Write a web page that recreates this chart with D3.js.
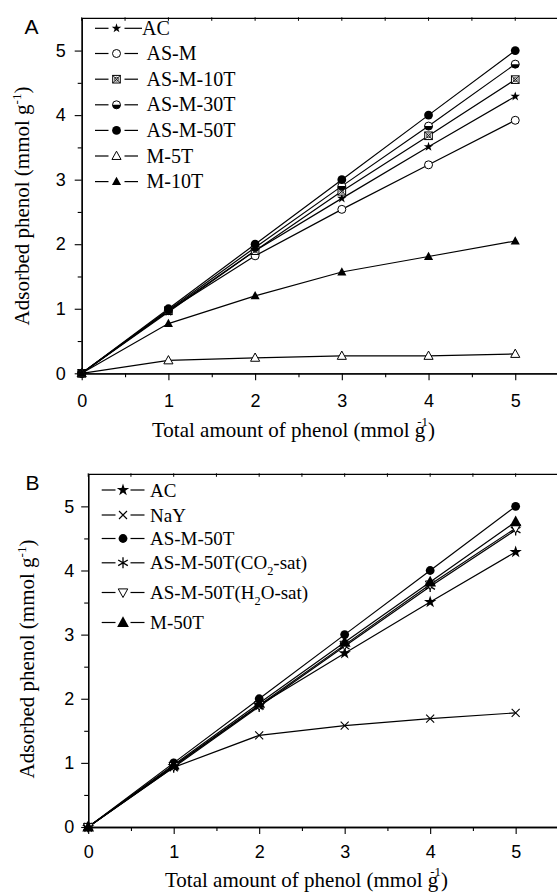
<!DOCTYPE html>
<html>
<head>
<meta charset="utf-8">
<script src="https://cdn.jsdelivr.net/npm/d3@7"></script>
<style>
  html, body { margin: 0; padding: 0; background: #fff; }
  svg { display: block; }
</style>
</head>
<body>
<svg id="chart" width="557" height="892"></svg>
<script>
// Phenol adsorption: total amount of phenol offered vs amount adsorbed
const loading = [0, 1, 2, 3, 4, 5];
const xTicks = [0, 1, 2, 3, 4, 5];
const yTicks = [0, 1, 2, 3, 4, 5];

// Panel A
const namesA   = ["AC", "AS-M", "AS-M-10T", "AS-M-30T", "AS-M-50T", "M-5T", "M-10T"];
const markersA = ["star", "circleOpen", "squareX", "circleHalf", "circleFilled", "triOpen", "triFilled"];
const acA      = [0, 0.95, 1.90, 2.71, 3.51, 4.29];
const asM      = [0, 0.97, 1.82, 2.54, 3.23, 3.92];
const asM10T   = [0, 0.97, 1.90, 2.82, 3.68, 4.55];
const asM30T   = [0, 0.98, 1.95, 2.90, 3.83, 4.79];
const asM50TA  = [0, 1.00, 2.00, 3.00, 4.00, 5.00];
const m5T      = [0, 0.20, 0.24, 0.27, 0.27, 0.30];
const m10T     = [0, 0.77, 1.20, 1.57, 1.81, 2.05];

// Panel B
const namesB   = ["AC", "NaY", "AS-M-50T", "AS-M-50T(CO2-sat)", "AS-M-50T(H2O-sat)", "M-50T"];
const markersB = ["starBig", "times", "circleFilled", "asterisk", "triDownOpen", "triFilledBig"];
const acB      = [0, 0.95, 1.90, 2.71, 3.51, 4.29];
const naY      = [0, 0.93, 1.43, 1.58, 1.69, 1.78];
const asM50TB  = [0, 1.00, 2.00, 3.00, 4.00, 5.00];
const co2Sat   = [0, 0.93, 1.88, 2.82, 3.75, 4.63];
const h2oSat   = [0, 0.95, 1.90, 2.84, 3.78, 4.66];
const m50T     = [0, 0.97, 1.93, 2.88, 3.82, 4.76];

const SERIF = "'Liberation Serif','Times New Roman',Times,serif";
const SANS  = "'Liberation Sans',Arial,Helvetica,sans-serif";

const svg = d3.select("#chart");

function drawMarker(g, type) {
  const blk = "#000";
  const tri = (h, up) => {
    const s = up ? 1 : -1;
    return `M0,${-h * s}L${h * 0.95},${h * 0.72 * s}L${-h * 0.95},${h * 0.72 * s}Z`;
  };
  switch (type) {
    case "star":
    case "starBig": {
      const R = type === "star" ? 5 : 6.5;
      g.append("path").attr("d", d3.symbol(d3.symbolStar, R * R / 0.8908)()).attr("fill", blk);
      break;
    }
    case "circleOpen":
      g.append("circle").attr("r", 4).attr("fill", "#fff").attr("stroke", blk).attr("stroke-width", 1);
      break;
    case "circleFilled":
      g.append("circle").attr("r", 4.4).attr("fill", blk);
      break;
    case "circleHalf":
      g.append("circle").attr("r", 4).attr("fill", "#fff").attr("stroke", blk).attr("stroke-width", 1);
      g.append("path").attr("d", "M-4,0A4,4 0 0 0 4,0Z").attr("fill", blk);
      break;
    case "squareX":
      g.append("rect").attr("x", -3.8).attr("y", -3.8).attr("width", 7.6).attr("height", 7.6)
        .attr("fill", "#fff").attr("stroke", blk).attr("stroke-width", 1);
      g.append("path").attr("d", "M-3.8,-3.8L3.8,3.8M3.8,-3.8L-3.8,3.8").attr("stroke", blk).attr("stroke-width", 0.9);
      g.append("circle").attr("r", 2).attr("fill", "none").attr("stroke", blk).attr("stroke-width", 0.7);
      break;
    case "triOpen":
      g.append("path").attr("d", tri(4.8, true)).attr("fill", "#fff").attr("stroke", blk).attr("stroke-width", 1);
      break;
    case "triFilled":
      g.append("path").attr("d", tri(4.8, true)).attr("fill", blk);
      break;
    case "triFilledBig":
      g.append("path").attr("d", tri(6.2, true)).attr("fill", blk);
      break;
    case "triDownOpen":
      g.append("path").attr("d", tri(5, false)).attr("fill", "#fff").attr("stroke", blk).attr("stroke-width", 1);
      break;
    case "times":
      g.append("path").attr("d", "M-4,-4L4,4M4,-4L-4,4").attr("stroke", blk).attr("stroke-width", 1.1);
      break;
    case "asterisk":
      g.append("path").attr("d", "M0,-5.5L0,5.5M-4.8,-2.8L4.8,2.8M4.8,-2.8L-4.8,2.8")
        .attr("stroke", blk).attr("stroke-width", 1.3);
      break;
  }
}

// Appends a label where "2" after CO / H is a subscript
function legendText(t, name, size) {
  const m = name.match(/^(.*\((?:CO|H))2(.*)$/);
  if (!m) { t.text(name); return; }
  t.append("tspan").text(m[1]);
  t.append("tspan").text("2").attr("font-size", size * 0.65).attr("dy", size * 0.3);
  t.append("tspan").text(m[2]).attr("dy", -size * 0.3);
}

function drawPanel(cfg) {
  const x = d3.scaleLinear().domain([0, 5.5]).range(cfg.xRange);
  const y = d3.scaleLinear().domain([0, 5.5]).range(cfg.yRange);
  const g = svg.append("g");
  const [x0, x1] = cfg.xRange;
  const [yb, yt] = cfg.yRange;

  // frame: top border with small ticks
  g.append("line").attr("x1", x0).attr("x2", x1).attr("y1", yt).attr("y2", yt)
    .attr("stroke", "#000").attr("stroke-width", 1.2);
  d3.range(0, 5.51, 0.5).forEach(v => {
    g.append("line").attr("x1", x(v)).attr("x2", x(v)).attr("y1", yt - 1).attr("y2", yt + 2.5)
      .attr("stroke", "#000").attr("stroke-width", 1);
  });

  // minor ticks
  const minorVals = d3.range(0.5, 5.01, 1);
  const xMinor = d3.axisBottom(x).tickValues(minorVals).tickSize(4).tickSizeOuter(0).tickFormat("");
  const yMinor = d3.axisLeft(y).tickValues(minorVals).tickSize(4).tickSizeOuter(0).tickFormat("");
  g.append("g").attr("transform", `translate(0,${yb})`).call(xMinor);
  g.append("g").attr("transform", `translate(${x0},0)`).call(yMinor);

  // major axes
  const xAxis = d3.axisBottom(x).tickValues(xTicks).tickSize(7).tickSizeOuter(0)
    .tickPadding(cfg.xPad).tickFormat(d3.format("d"));
  const yAxis = d3.axisLeft(y).tickValues(yTicks).tickSize(7).tickSizeOuter(0)
    .tickPadding(cfg.yPad).tickFormat(d3.format("d"));
  const gx = g.append("g").attr("transform", `translate(0,${yb})`).call(xAxis);
  const gy = g.append("g").attr("transform", `translate(${x0},0)`).call(yAxis);
  [gx, gy].forEach(a => {
    a.selectAll("text").attr("font-family", SANS).attr("font-size", 18).attr("fill", "#000");
  });
  g.selectAll("path.domain").attr("stroke", "#000").attr("stroke-width", 1.3);
  g.selectAll(".tick line").attr("stroke", "#000").attr("stroke-width", 1.1);

  // series
  const line = d3.line().x((d, i) => x(loading[i])).y(d => y(d));
  cfg.series.forEach(vals => {
    g.append("path").attr("d", line(vals)).attr("fill", "none")
      .attr("stroke", "#000").attr("stroke-width", 1.2);
  });
  cfg.series.forEach((vals, k) => {
    vals.forEach((v, i) => {
      const mg = g.append("g").attr("transform", `translate(${x(loading[i])},${y(v)})`);
      drawMarker(mg, cfg.markers[k]);
    });
  });

  // legend
  cfg.names.forEach((name, k) => {
    const ry = cfg.legY[k];
    const L = cfg.leg;
    const rEnd = k === 0 && L.firstRight ? L.firstRight : L.r2;
    g.append("line").attr("x1", L.l1).attr("x2", L.l2).attr("y1", ry).attr("y2", ry)
      .attr("stroke", "#000").attr("stroke-width", 1.2);
    g.append("line").attr("x1", L.r1).attr("x2", rEnd).attr("y1", ry).attr("y2", ry)
      .attr("stroke", "#000").attr("stroke-width", 1.2);
    drawMarker(g.append("g").attr("transform", `translate(${L.m},${ry})`), cfg.markers[k]);
    const t = g.append("text").attr("x", k === 0 && L.firstText ? L.firstText : L.tx).attr("y", ry + 6.5)
      .attr("font-family", SERIF).attr("font-size", L.size).attr("fill", "#000");
    legendText(t, name, L.size);
  });

  // panel letter
  g.append("text").attr("x", cfg.letterX).attr("y", cfg.letterY).text(cfg.letter)
    .attr("font-family", SANS).attr("font-size", 21).attr("fill", "#000");

  // y title
  const yt2 = g.append("text")
    .attr("transform", `translate(${cfg.yTitle[0]},${cfg.yTitle[1]}) rotate(-90)`)
    .attr("text-anchor", "middle").attr("font-family", SERIF).attr("font-size", 21).attr("fill", "#000");
  yt2.append("tspan").text("Adsorbed phenol (mmol g");
  yt2.append("tspan").text("-1").attr("font-size", 13).attr("dy", -8);
  yt2.append("tspan").text(")").attr("dy", 8);

  // x title (superscript set above the g)
  const xt = g.append("text").attr("x", cfg.xTitle[0]).attr("y", cfg.xTitle[1])
    .attr("font-family", SERIF).attr("font-size", 21).attr("fill", "#000");
  xt.append("tspan").text("Total amount of phenol (mmol g");
  xt.append("tspan").text("-1").attr("font-size", 13).attr("dx", -8).attr("dy", -11);
  xt.append("tspan").text(")").attr("dx", 0).attr("dy", 11);
}

drawPanel({
  xRange: [81.7, 558.6], yRange: [373.3, 18.3],
  xPad: 14, yPad: 9,
  series: [acA, asM, asM10T, asM30T, asM50TA, m5T, m10T],
  markers: markersA, names: namesA,
  legY: [28.3, 53.5, 79.2, 104.8, 130.4, 156, 181.6],
  leg: { l1: 95, l2: 108.5, m: 116.5, r1: 124.5, r2: 138, firstRight: 142, tx: 146.5, firstText: 142, size: 20 },
  letter: "A", letterX: 24.5, letterY: 33.5,
  yTitle: [29, 206], xTitle: [152, 437]
});

drawPanel({
  xRange: [88.2, 558.4], yRange: [827, 474.3],
  xPad: 11, yPad: 7,
  series: [acB, naY, asM50TB, co2Sat, h2oSat, m50T],
  markers: markersB, names: namesB,
  legY: [490, 515, 538.5, 562.8, 592.5, 622.5],
  leg: { l1: 101.7, l2: 115.5, m: 123, r1: 130.5, r2: 144.5, tx: 150, size: 19 },
  letter: "B", letterX: 25.5, letterY: 490,
  yTitle: [33.5, 659], xTitle: [165, 887]
});
</script>
</body>
</html>
